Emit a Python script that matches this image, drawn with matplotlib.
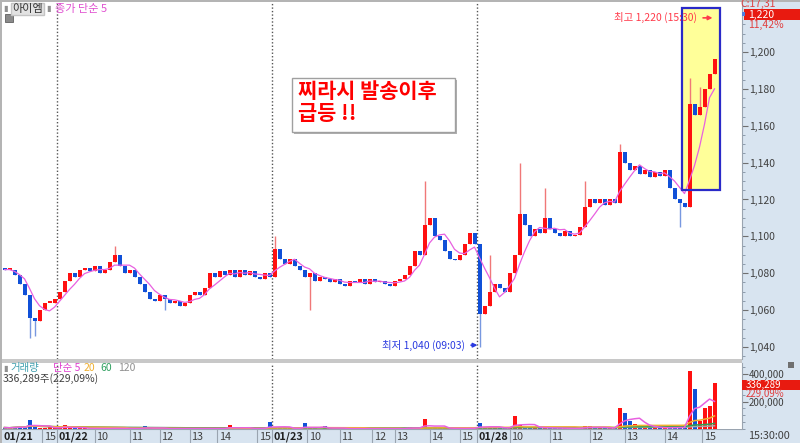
import matplotlib
matplotlib.use("Agg")
import matplotlib.pyplot as plt
import matplotlib.patches as patches
from matplotlib.ticker import FuncFormatter, MultipleLocator, FixedLocator
import numpy as np
import pandas as pd

plt.rcParams['font.family'] = ['Noto Sans CJK KR', 'DejaVu Sans']

# ---- data (one bar ~ one 10 min slot) ----
close_0121 = [1082, 1082, 1079, 1074, 1068, 1056, 1054, 1060, 1064, 1064, 1066]
close_0122 = [1070, 1076, 1080, 1078, 1082, 1083, 1081, 1084, 1080, 1082,
              1086, 1090, 1084, 1080, 1082, 1078, 1074, 1070, 1066, 1065,
              1068, 1066, 1064, 1065, 1062, 1064, 1068, 1070, 1068, 1072,
              1080, 1078, 1081, 1079, 1082, 1078, 1082, 1079, 1081, 1078,
              1077, 1080, 1078]
close_0123 = [1093, 1088, 1085, 1088, 1084, 1082, 1078, 1080, 1076, 1078,
              1077, 1075, 1077, 1074, 1073, 1076, 1075, 1077, 1074, 1077,
              1075, 1076, 1074, 1073, 1076, 1077, 1079, 1084, 1092, 1090,
              1106, 1110, 1100, 1098, 1092, 1088, 1087, 1090, 1096, 1102,
              1096]
close_0128 = [1058, 1062, 1070, 1074, 1072, 1070, 1080, 1090, 1112, 1106,
              1100, 1104, 1102, 1110, 1104, 1102, 1100, 1103, 1100, 1101,
              1105, 1116, 1120, 1118, 1120, 1117, 1120, 1118, 1146, 1140,
              1136, 1138, 1134, 1136, 1132, 1135, 1133, 1136, 1126, 1120,
              1118, 1116, 1172, 1166, 1170, 1180, 1188, 1196]
first_open = 1083

# wicks that stick out of the bodies (bar index -> price)
wick_high = {22: 1095, 54: 1100, 84: 1130, 97: 1090, 103: 1140, 108: 1126,
             116: 1130, 123: 1150, 137: 1186, 139: 1181}
wick_low = {5: 1045, 6: 1046, 32: 1060, 61: 1060, 95: 1040, 135: 1105}

vol_0121 = [10000, 8000, 15000, 18000, 12000, 69000, 14000, 9000, 7000, 11000, 8000]
vol_0122 = [9000, 28000, 6000, 5000, 4000, 6000, 3000, 5000, 4000, 3000,
            6000, 8000, 4000, 3000, 5000, 4000, 3000, 20000, 4000, 3000,
            2000, 5000, 3000, 4000, 2000, 3000, 4000, 5000, 3000, 2000,
            6000, 4000, 3000, 5000, 28000, 4000, 3000, 5000, 6000, 4000,
            3000, 8000, 48000]
vol_0123 = [12000, 6000, 5000, 4000, 3000, 6000, 41000, 5000, 4000, 3000,
            20000, 4000, 3000, 2000, 3000, 2000, 3000, 2000, 2000, 3000,
            2000, 3000, 2000, 2000, 3000, 4000, 3000, 18000, 6000, 5000,
            76000, 12000, 8000, 5000, 6000, 4000, 3000, 5000, 4000, 6000,
            8000]
vol_0128 = [41000, 15000, 10000, 8000, 6000, 5000, 12000, 97000, 30000, 15000,
            10000, 8000, 12000, 9000, 6000, 5000, 4000, 6000, 5000, 4000,
            6000, 22000, 20000, 8000, 6000, 5000, 7000, 10000, 152000, 120000,
            55000, 35000, 30000, 12000, 10000, 8000, 6000, 15000, 8000, 12000,
            6000, 15000, 420000, 290000, 60000, 152000, 165000, 336289]

day_breaks = [10.5, 53.5, 94.5]
time_ticks = [-0.5, 7.5, 10.5, 18, 25, 31, 37, 42.5, 50.5, 53.5, 60.5, 67,
              73.5, 78, 85, 91, 94.5, 101, 109, 117, 124, 132, 139.5]
time_labels = ["01/21", "15", "01/22", "10", "11", "12", "13", "14", "15",
               "01/23", "10", "11", "12", "13", "14", "15",
               "01/28", "10", "11", "12", "13", "14", "15"]

closes = close_0121 + close_0122 + close_0123 + close_0128
volume = vol_0121 + vol_0122 + vol_0123 + vol_0128
n = len(closes)
opens = [first_open] + closes[:-1]
highs = [max(o, c) for o, c in zip(opens, closes)]
lows = [min(o, c) for o, c in zip(opens, closes)]
for k, v in wick_high.items():
    highs[k] = v
for k, v in wick_low.items():
    lows[k] = v
x = np.arange(n)
up = np.array(closes) >= np.array(opens)

W, H = 800, 443
STRIP = '#d8e4f0'


def fig_box(l, t, r, b):
    return [l / W, 1 - b / H, (r - l) / W, (b - t) / H]


def fx(px):
    return px / W


def fy(py):
    return 1 - py / H


def fig_rect(l, t, w, h, z=1, **kw):
    # rectangle in pixel units measured from the top-left corner
    fig.patches.append(patches.Rectangle((fx(l), fy(t + h)), w / W, h / H,
                                         transform=fig.transFigure, zorder=z, **kw))


fig = plt.figure(figsize=(8, 4.43), dpi=100, facecolor='white')

# background strips / borders (behind the axes)
fig_rect(742, 0, 58, 443, z=-2, facecolor=STRIP, edgecolor='none')
fig_rect(0, 429, 742, 14, z=-2, facecolor=STRIP, edgecolor='none')
fig_rect(0, 359, 742, 4, z=-2, facecolor='#c8c8c8', edgecolor='none')
fig_rect(0, 0, 800, 2, z=-2, facecolor='#b4b4b4', edgecolor='none')
fig_rect(0, 0, 1.5, 443, z=-2, facecolor='#b4b4b4', edgecolor='none')

xmin, xmax = -0.5, 147.5

# ---- price panel ----
ax = fig.add_axes(fig_box(2, 2, 742, 359))
ax.set_facecolor('none')
ax.set_xlim(xmin, xmax)
ax.set_ylim(1033.5, 1227.1)

# yellow highlight box
ax.add_patch(patches.Rectangle((135.4, 1125.0), 7.7, 98.8, facecolor='#ffff99',
                               edgecolor='none', zorder=1))

up_wick, dn_wick = '#f07878', '#7898e0'
ax.vlines(x, lows, highs, colors=[up_wick if u else dn_wick for u in up], lw=1, zorder=2)
body_bottom = [min(o, c) for o, c in zip(opens, closes)]
body_h = [max(abs(c - o), 0.7) for o, c in zip(opens, closes)]
ax.bar(x, body_h, bottom=body_bottom, width=0.8,
       color=['#ff1010' if u else '#1050d8' for u in up], linewidth=0, zorder=3)

ma5 = pd.Series(closes).rolling(5, min_periods=1).mean()
ax.plot(x, ma5, color='#e860e0', lw=0.9, zorder=4)

ax.add_patch(patches.Rectangle((135.4, 1125.0), 7.7, 98.8, facecolor='none',
                               edgecolor='#2a2ac8', lw=1.6, zorder=5))

for d in day_breaks:
    ax.axvline(d, color='#555555', lw=1, ls=(0, (1, 1.5)), zorder=1)

ax.annotate("최고 1,220 (15:30)", xy=(141.6, 1218.5), xytext=(138.6, 1218.5),
            ha='right', va='center', color='#ff3a4a', fontsize=7.5, zorder=6,
            arrowprops=dict(arrowstyle='-|>', color='#ff3a4a', lw=1.2,
                            shrinkA=2, shrinkB=0, mutation_scale=6))
ax.annotate("최저 1,040 (09:03)", xy=(94.6, 1041), xytext=(92.2, 1041),
            ha='right', va='center', color='#2a3ae0', fontsize=7.5, zorder=6,
            arrowprops=dict(arrowstyle='-|>', color='#2a3ae0', lw=1.2,
                            shrinkA=2, shrinkB=0, mutation_scale=6))

for s in ['left', 'top', 'bottom']:
    ax.spines[s].set_visible(False)
ax.spines['right'].set_color('#9aa4b0')
ax.set_xticks([])
ax.yaxis.tick_right()
ax.yaxis.set_major_locator(FixedLocator(list(range(1040, 1220, 20))))
ax.yaxis.set_minor_locator(MultipleLocator(5))
ax.yaxis.set_major_formatter(FuncFormatter(lambda v, _: f"{v:,.0f}"))
ax.tick_params(axis='y', which='major', length=4, pad=1, color='#707070',
               labelsize=7.5, labelcolor='#404040')
ax.tick_params(axis='y', which='minor', length=2, color='#8090a0')

# ---- volume panel ----
av = fig.add_axes(fig_box(2, 363, 742, 429))
av.set_facecolor('none')
av.set_xlim(xmin, xmax)
av.set_ylim(0, 480000)
av.bar(x, volume, width=0.8, color=['#ff1010' if u else '#1050d8' for u in up],
       linewidth=0, zorder=3)
vs = pd.Series(volume)
for w, c in [(120, '#a8a8a8'), (60, '#30a050'), (20, '#f0b030'), (5, '#e860e0')]:
    av.plot(x, vs.rolling(w, min_periods=1).mean(), color=c, lw=1.1, zorder=4)
for d in day_breaks:
    av.axvline(d, color='#555555', lw=1, ls=(0, (1, 1.5)), zorder=1)
for s in ['left', 'top', 'bottom']:
    av.spines[s].set_visible(False)
av.spines['right'].set_color('#9aa4b0')
av.set_xticks([])
av.yaxis.tick_right()
av.yaxis.set_major_locator(FixedLocator([200000, 400000]))
av.yaxis.set_minor_locator(MultipleLocator(50000))
av.yaxis.set_major_formatter(FuncFormatter(lambda v, _: f"{v:,.0f}"))
av.tick_params(axis='y', which='major', length=4, pad=1, color='#707070',
               labelsize=7, labelcolor='#404040')
av.tick_params(axis='y', which='minor', length=2, color='#8090a0')

# ---- time strip ----
at = fig.add_axes(fig_box(2, 429, 742, 443))
at.set_xlim(xmin, xmax)
at.set_ylim(0, 1)
at.axis('off')
at.axhline(1, color='#9aa4b0', lw=0.8)
for pos, lab in zip(time_ticks, time_labels):
    if pos > -0.5:
        at.axvline(pos, color='#9aa4b0', lw=0.8)
    is_date = '/' in lab
    at.text(pos + 0.35, 0.45, lab, fontsize=7.8, va='center', ha='left',
            color='#202020' if is_date else '#404040',
            fontweight='bold' if is_date else 'normal')
fig.text(fx(748), fy(436), "15:30:00", fontsize=7.8, va='center', color='#404040')

# ---- header labels ----
fig.text(fx(3), fy(9), "▮", fontsize=6, va='center', color='#909090')
fig.text(fx(12), fy(9), "아이엠", fontsize=8, va='center', color='#303030',
         bbox=dict(facecolor='#e2e2e2', edgecolor='#c4c4c4', boxstyle='square,pad=0.12'))
fig.text(fx(46), fy(9), "▮", fontsize=6, va='center', color='#909090')
fig.text(fx(55), fy(9), "종가 단순 5", fontsize=8, va='center', color='#e050d0')
fig_rect(5, 14, 8, 8, facecolor='#8a8a8a', edgecolor='#606060', lw=0.6)

# price strip labels
fig.text(fx(740), fy(4), "C:17,31", fontsize=7.5, va='center', color='#e04040')
fig_rect(744, 9, 56, 11, facecolor='#e81a10', edgecolor='none')
fig.text(fx(748), fy(14.5), "1,220", fontsize=7.5, va='center', color='white')
fig_rect(742, 12, 3, 4, facecolor='#5080e0', edgecolor='none')
fig.text(fx(748), fy(24.5), "11,42%", fontsize=7.5, va='center', color='#e04040')

# volume legend
fig.text(fx(3), fy(368), "▮", fontsize=6, va='center', color='#909090')
fig.text(fx(10), fy(368), "거래량", fontsize=7.5, va='center', color='#40a0b0')
fig.text(fx(53), fy(368), "단순 5", fontsize=7.5, va='center', color='#e040d0')
fig.text(fx(84), fy(368), "20", fontsize=7.5, va='center', color='#f0b030')
fig.text(fx(100), fy(368), "60", fontsize=7.5, va='center', color='#30a060')
fig.text(fx(118), fy(368), "120", fontsize=7.5, va='center', color='#909090')
fig.text(fx(3), fy(379), "336,289주(229,09%)", fontsize=7.5, va='center', color='#404040')

fig_rect(742, 379.5, 58, 10, facecolor='#e81a10', edgecolor='none')
fig.text(fx(746), fy(384.5), "336,289", fontsize=7, va='center', color='white')
fig.text(fx(746), fy(393.5), "229,09%", fontsize=7, va='center', color='#e04040')
fig_rect(788, 362, 6, 6, facecolor='#707070', edgecolor='none')

# callout box
fig_rect(294, 80, 163, 54, z=5, facecolor='#b0b0b0', edgecolor='none')
fig_rect(292, 78, 163, 54, z=6, facecolor='white', edgecolor='#a0a0a0', lw=1)
fig.text(fx(298), fy(81), "찌라시 발송이후\n급등 !!", fontsize=15, fontweight='bold',
         color='#ff0000', va='top', ha='left', linespacing=1.05, zorder=7)

fig.savefig("out.png", dpi=100)
